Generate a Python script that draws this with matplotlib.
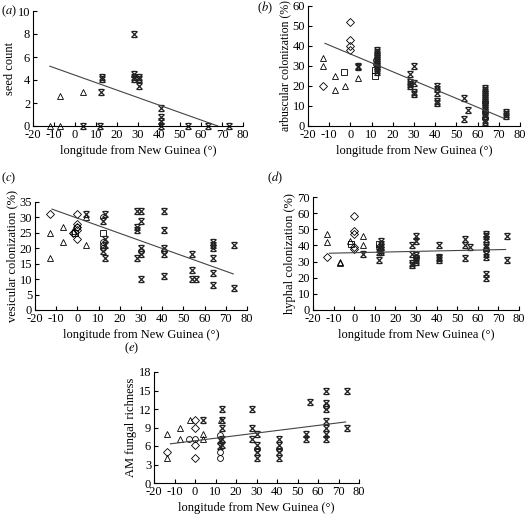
import numpy as np
import matplotlib
matplotlib.use('Agg')
import matplotlib.pyplot as plt
from matplotlib.path import Path

plt.rcParams['font.family'] = 'Liberation Serif'
plt.rcParams['mathtext.fontset'] = 'stix'
plt.rcParams['axes.unicode_minus'] = False

# ---- panel (a): seed count
a_tri_x = [-12, -7, -7, 4]
a_tri_y = [0, 0, 2.6, 3.0]
a_star_x = [4, 12, 13, 13, 12.5, 28, 28, 28, 28, 30.5, 30.5, 30.5, 41, 41, 41, 41, 54, 63.5, 73.5]
a_star_y = [0, 0, 4.3, 4.1, 3.0, 8.0, 4.5, 4.3, 4.1, 4.3, 4.1, 3.5, 1.6, 0.8, 0.4, 0, 0, 0, 0]
a_fit = (4.42, -0.065, -12, 68)

# ---- panel (b): arbuscular colonization
b_dia_x = [-13, 0, 0, 0, 0]
b_dia_y = [20, 52, 43, 40, 38]
b_tri_x = [-13, -13, -7.5, -7.5, -2.5, 3.5]
b_tri_y = [34, 30, 25, 18, 20, 24]
b_sq_x = [-3, 11.5, 11.5]
b_sq_y = [27, 25, 28]
b_circ_x = [12, 12, 63.5, 63.5, 63.5]
b_circ_y = [31, 33, 12, 7, 4]
b_star_x = [3.5, 3.5] + [12.5] * 12 + [28] * 4 + [30] * 4 + [41] * 5 + [53.5, 53.5, 55.5] + [63.5] * 17 + [73.5] * 3
b_star_y = [29.5, 30, 38, 37, 36, 35, 34, 33, 32, 31, 30, 29, 28, 27,
            26, 22, 21, 20, 30, 21.5, 17, 16, 20, 18.3, 16.3, 12.5, 11.3, 14, 3.3, 8,
            19, 18, 17, 16, 15, 14, 13, 12, 11, 10, 9, 8, 7, 6, 5, 3, 2, 7, 6, 5]
b_fit = (36.0, -0.444, -12, 72.5)

# ---- panel (c): vesicular colonization
c_dia_x = [-13, 0, 0, 0, 0, 0, -2]
c_dia_y = [31, 31, 28, 27, 26, 23, 25]
c_tri_x = [-13, -13, -7, -7, 4, 4, -2]
c_tri_y = [25, 17, 27, 22, 30, 21, 25.5]
c_sq_x = [-1, 12]
c_sq_y = [25, 25]
c_circ_x = [0, 12, 12, 12, 12, 30, 41]
c_circ_y = [27, 30, 22, 21, 20, 19, 19]
c_star_x = [4] + [13] * 4 + [12] * 2 + [28] * 4 + [30] * 5 + [41] * 5 + [54] * 3 + [56] + [64] * 6 + [74] * 2
c_star_y = [31, 31, 23, 21, 17, 29, 19, 32, 27, 26, 17, 32, 29, 20, 18, 10,
            32, 26, 20, 18, 11, 18, 13, 10, 10, 22, 21, 20, 17, 12, 8, 21, 7]
c_fit = (29.75, -0.2456, -12, 73.5)

# ---- panel (d): hyphal colonization
d_dia_x = [-13, 0, 0, 0, 0, 0]
d_dia_y = [33, 58, 49, 47, 39, 38]
d_tri_x = [-13, -13, -7, -7, -2, 4.5, 4.5]
d_tri_y = [47, 42, 30, 29, 43, 46, 40]
d_sq_x = [-1.5, 12]
d_sq_y = [41, 41]
d_circ_x = [12, 64, 30]
d_circ_y = [39, 37, 33]
d_star_x = [4.5] + [12] * 3 + [13] * 5 + [28] * 4 + [30] * 6 + [41] * 4 + [54] * 3 + [56] + [64] * 9 + [74] * 2
d_star_y = [35, 31, 36, 38, 43, 41, 39, 37, 36, 40, 35, 29, 28, 46, 43, 34, 32, 31, 30,
            40, 33, 32, 31, 44, 40, 32, 39, 47, 46, 44, 40, 39, 35, 33, 22, 20, 46, 31]
d_fit = (35.5, 0.027, -12, 73.5)

# ---- panel (e): AM fungal richness
e_tri_x = [-13.5, -13.5, -7.5, -7.5, -2.5, 4, 4, 12.5]
e_tri_y = [8, 4, 9, 7.1, 10.2, 8, 7.1, 10.2]
e_dia_x = [-13.5, 0, 0, 0, 0]
e_dia_y = [5, 10.2, 9, 6.1, 4]
e_circ_x = [-3, 0, 12, 12, 12, 30, 41, 64]
e_circ_y = [7.2, 7.2, 7.8, 5, 4, 5.5, 5.5, 12.5]
e_star_x = [4] + [13] * 5 + [12] * 2 + [28] * 3 + [30] * 4 + [41] * 4 + [54] * 2 + [56] + [64] * 7 + [74] * 2
e_star_y = [10.2, 12, 10.2, 9, 7.2, 6.1, 7, 6, 12, 9, 7.1, 7.9, 6.1, 5, 4,
            7.1, 6.1, 5, 4, 7.9, 7.1, 13.1, 15, 13, 12, 10, 9, 8, 7.1, 15, 9]
e_fit = (6.85, 0.0415, -12, 73.5)

# bow-tie marker: an X closed by short bars top and bottom
star = Path([(-1, -1), (1, 1), (-1, 1), (1, -1), (-0.7, 1), (0.7, 1), (-0.7, -1), (0.7, -1)],
            [Path.MOVETO, Path.LINETO] * 4)

W, H = 528, 516
FS = 9
fig = plt.figure(figsize=(W / 100, H / 100), dpi=100)


def make_ax(l, r, t, b):
    return fig.add_axes([l / W, 1 - b / H, (r - l) / W, (b - t) / H])


def style(ax, ymax, ystep, ylabel, letter, lx, ly, yfs=FS):
    ax.set_xlim(-20, 80)
    ax.set_ylim(0, ymax)
    ax.set_xticks(np.arange(-20, 81, 10))
    ax.set_yticks(np.arange(0, ymax + 0.1, ystep))
    for s in ['top', 'right']:
        ax.spines[s].set_visible(False)
    for s in ['left', 'bottom']:
        ax.spines[s].set_linewidth(0.8)
    ax.tick_params(direction='in', length=3, width=0.8, labelsize=FS, pad=2)
    ax.set_xlabel('longitude from New Guinea (°)', fontsize=FS, labelpad=3)
    ax.set_ylabel(ylabel, fontsize=yfs, labelpad=1)
    fig.text(lx / W, 1 - ly / H, '($\\it{' + letter + '}$)', fontsize=FS, va='center')


def scatter(ax, x, y, marker, ms, color='k', lw=0.6):
    ax.plot(x, y, linestyle='none', marker=marker, ms=ms, mfc='none', mec=color, mew=lw, clip_on=False)


def fit(ax, f):
    b0, b1, x0, x1 = f
    xs = np.array([x0, x1])
    ax.plot(xs, b0 + b1 * xs, color='#444444', lw=0.8)


# (a)
ax = make_ax(33, 243, 11, 126)
scatter(ax, a_tri_x, a_tri_y, '^', 4.5)
scatter(ax, a_star_x, a_star_y, star, 4.4, '#222222', 0.9)
fit(ax, a_fit)
style(ax, 10, 2, 'seed count', 'a', 1, 11)

# (b)
ax = make_ax(308, 520, 6, 126)
scatter(ax, b_dia_x, b_dia_y, 'D', 3.8)
scatter(ax, b_tri_x, b_tri_y, '^', 4.5)
scatter(ax, b_sq_x, b_sq_y, 's', 4.2)
scatter(ax, b_circ_x, b_circ_y, 'o', 4.2)
scatter(ax, b_star_x, b_star_y, star, 4.4, '#222222', 0.9)
fit(ax, b_fit)
style(ax, 60, 10, 'arbuscular colonization (%)', 'b', 257, 8, yfs=8.5)

# (c)
ax = make_ax(35, 247, 202, 310)
scatter(ax, c_dia_x, c_dia_y, 'D', 3.8)
scatter(ax, c_tri_x, c_tri_y, '^', 4.5)
scatter(ax, c_sq_x, c_sq_y, 's', 4.2)
scatter(ax, c_circ_x, c_circ_y, 'o', 4.2)
scatter(ax, c_star_x, c_star_y, star, 4.4, '#222222', 0.9)
fit(ax, c_fit)
style(ax, 35, 5, 'vesicular colonization (%)', 'c', 1, 178)

# (d)
ax = make_ax(313, 519, 197, 310)
scatter(ax, d_dia_x, d_dia_y, 'D', 3.8)
scatter(ax, d_tri_x, d_tri_y, '^', 4.5)
scatter(ax, d_sq_x, d_sq_y, 's', 4.2)
scatter(ax, d_circ_x, d_circ_y, 'o', 4.2)
scatter(ax, d_star_x, d_star_y, star, 4.4, '#222222', 0.9)
fit(ax, d_fit)
style(ax, 70, 10, 'hyphal colonization (%)', 'd', 267, 178)

# (e)
ax = make_ax(154, 359, 372, 483)
scatter(ax, e_dia_x, e_dia_y, 'D', 3.8)
scatter(ax, e_tri_x, e_tri_y, '^', 4.5)
scatter(ax, e_circ_x, e_circ_y, 'o', 4.2)
scatter(ax, e_star_x, e_star_y, star, 4.4, '#222222', 0.9)
fit(ax, e_fit)
style(ax, 18, 3, 'AM fungal richness', 'e', 124, 348)

fig.savefig('out.png', dpi=100)
